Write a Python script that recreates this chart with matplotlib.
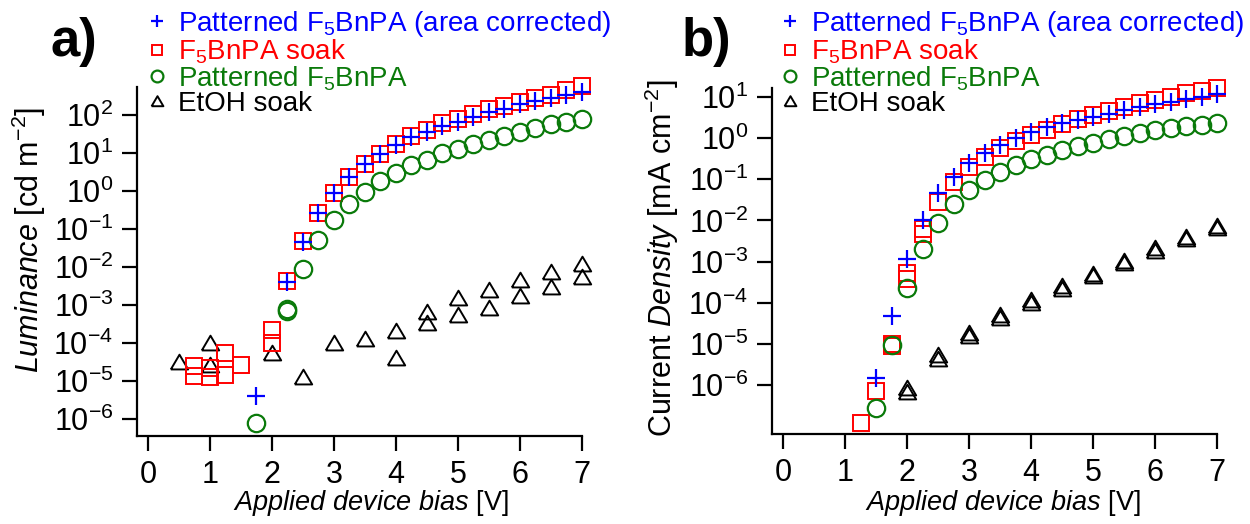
import numpy as np
import matplotlib
matplotlib.use('Agg')
import matplotlib.pyplot as plt
from matplotlib.ticker import FixedLocator, NullLocator, LogFormatterMathtext

plt.rcParams['font.family'] = ['Liberation Sans', 'DejaVu Sans']
plt.rcParams['mathtext.fontset'] = 'custom'
plt.rcParams['mathtext.rm'] = 'Liberation Sans'
plt.rcParams['mathtext.it'] = 'Liberation Sans:italic'
plt.rcParams['mathtext.bf'] = 'Liberation Sans:bold'
plt.rcParams['axes.unicode_minus'] = False

# ---------------- data (log10 of values) ----------------
# Panel a) Luminance [cd m^-2]
lum_corr_V = [1.75, 2.25, 2.5, 2.75, 3.0, 3.25, 3.5, 3.75, 4.0, 4.25, 4.5, 4.75,
              5.0, 5.25, 5.5, 5.75, 6.0, 6.25, 6.5, 6.75, 7.0]
lum_corr_log = [-5.39, -2.39, -1.33, -0.59, -0.04, 0.38, 0.71, 0.97, 1.22, 1.43, 1.56, 1.70,
                1.82, 1.95, 2.08, 2.17, 2.28, 2.36, 2.44, 2.53, 2.61]

lum_soak_V = [0.75, 0.75, 1.0, 1.0, 1.25, 1.25, 1.5, 2.0, 2.0, 2.25, 2.5, 2.75, 3.0, 3.25,
              3.5, 3.75, 4.0, 4.25, 4.5, 4.75, 5.0, 5.25, 5.5, 5.75, 6.0, 6.25, 6.5, 6.75, 7.0]
lum_soak_log = [-4.61, -4.86, -4.67, -4.89, -4.27, -4.84, -4.58, -3.66, -4.01, -2.37, -1.31,
                -0.59, -0.04, 0.38, 0.71, 0.97, 1.24, 1.46, 1.62, 1.78, 1.91, 2.04, 2.16, 2.24,
                2.35, 2.44, 2.53, 2.66, 2.76]

lum_pat_V = [1.75, 2.25, 2.25, 2.5, 2.75, 3.0, 3.25, 3.5, 3.75, 4.0, 4.25, 4.5, 4.75, 5.0,
             5.25, 5.5, 5.75, 6.0, 6.25, 6.5, 6.75, 7.0]
lum_pat_log = [-6.10, -3.11, -3.15, -2.06, -1.29, -0.76, -0.34, -0.02, 0.26, 0.47, 0.68, 0.83,
               0.99, 1.10, 1.24, 1.34, 1.46, 1.56, 1.65, 1.76, 1.82, 1.89]

lum_etoh_V = [0.5, 1.0, 1.0, 2.0, 2.5, 3.0, 3.5, 4.0, 4.0, 4.5, 4.5, 5.0, 5.0, 5.5, 5.5,
              6.0, 6.0, 6.5, 6.5, 7.0, 7.0]
lum_etoh_log = [-4.49, -4.01, -4.58, -4.26, -4.89, -4.01, -3.89, -3.68, -4.39, -3.18, -3.47,
                -2.81, -3.26, -2.61, -3.09, -2.34, -2.76, -2.14, -2.52, -1.92, -2.27]

# Panel b) Current density [mA cm^-2]
j_corr_V = [1.5, 1.75, 2.0, 2.25, 2.5, 2.75, 3.0, 3.25, 3.5, 3.75, 4.0, 4.25, 4.5, 4.75,
            5.0, 5.25, 5.5, 5.75, 6.0, 6.25, 6.5, 6.75, 7.0]
j_corr_log = [-5.82, -4.32, -2.93, -1.99, -1.34, -0.94, -0.61, -0.35, -0.17, 0.01, 0.16, 0.26,
              0.36, 0.44, 0.52, 0.60, 0.68, 0.76, 0.82, 0.89, 0.95, 1.01, 1.07]

j_soak_V = [1.25, 1.5, 1.75, 1.75, 2.0, 2.0, 2.25, 2.25, 2.5, 2.75, 3.0, 3.25, 3.5, 3.75,
            4.0, 4.25, 4.5, 4.75, 5.0, 5.25, 5.5, 5.75, 6.0, 6.25, 6.5, 6.75, 7.0]
j_soak_log = [-6.92, -6.14, -5.00, -5.06, -3.27, -3.42, -2.20, -2.32, -1.54, -1.06, -0.71,
              -0.45, -0.25, -0.06, 0.08, 0.21, 0.34, 0.46, 0.56, 0.66, 0.76, 0.85, 0.93, 1.01,
              1.09, 1.15, 1.22]

j_pat_V = [1.5, 1.75, 2.0, 2.25, 2.5, 2.75, 3.0, 3.25, 3.5, 3.75, 4.0, 4.25, 4.5, 4.75,
           5.0, 5.25, 5.5, 5.75, 6.0, 6.25, 6.5, 6.75, 7.0]
j_pat_log = [-6.55, -5.03, -3.64, -2.69, -2.05, -1.60, -1.26, -1.02, -0.82, -0.65, -0.51, -0.41,
             -0.29, -0.19, -0.11, -0.03, 0.05, 0.12, 0.19, 0.25, 0.29, 0.33, 0.36]

j_etoh_V = [2.0, 2.5, 3.0, 3.5, 4.0, 4.5, 5.0, 5.5, 6.0, 6.5, 7.0,
            2.0, 2.5, 3.0, 3.5, 4.0, 4.5, 5.0, 5.5, 6.0, 6.5, 7.0]
j_etoh_log = [-6.08, -5.27, -4.73, -4.30, -3.93, -3.59, -3.29, -2.98, -2.68, -2.40, -2.14,
              -6.17, -5.36, -4.82, -4.38, -4.01, -3.66, -3.36, -3.04, -2.74, -2.46, -2.19]

x_ticks = [0, 1, 2, 3, 4, 5, 6, 7]
lum_yticks_exp = [-6, -5, -4, -3, -2, -1, 0, 1, 2]
j_yticks_exp = [-6, -5, -4, -3, -2, -1, 0, 1]

labels = ['Patterned F$_5$BnPA (area corrected)', 'F$_5$BnPA soak',
          'Patterned F$_5$BnPA', 'EtOH soak']

# ---------------- styles ----------------
C_BLUE = '#0000ff'
C_RED = '#ff0000'
C_GREEN = '#0a7a0a'
C_BLACK = '#000000'
TRI = [(-1, -0.8), (1, -0.8), (0, 0.9), (-1, -0.8)]
MS = 12.5

W, H = 1250, 524
fig = plt.figure(figsize=(W / 100, H / 100), dpi=100)


def ax_at(x0, x1, ytop, ybot):
    return fig.add_axes([x0 / W, 1 - ybot / H, (x1 - x0) / W, (ybot - ytop) / H])


axL = ax_at(137, 582, 87, 436)
axR = ax_at(772, 1217, 88, 434)


def draw(ax, etoh, soak, pat, corr):
    h_e, = ax.plot(etoh[0], np.power(10.0, etoh[1]), ls='none', marker=TRI, ms=MS,
                   mfc='none', mec=C_BLACK, color=C_BLACK, mew=1.4, clip_on=False, zorder=3)
    h_s, = ax.plot(soak[0], np.power(10.0, soak[1]), ls='none', marker='s', ms=MS - 1,
                   mfc='none', mec=C_RED, color=C_RED, mew=1.4, clip_on=False, zorder=4)
    h_p, = ax.plot(pat[0], np.power(10.0, pat[1]), ls='none', marker='o', ms=MS,
                   mfc='none', mec=C_GREEN, color=C_GREEN, mew=1.6, clip_on=False, zorder=5)
    h_c, = ax.plot(corr[0], np.power(10.0, corr[1]), ls='none', marker='+', ms=MS + 1,
                   mec=C_BLUE, color=C_BLUE, mew=1.6, clip_on=False, zorder=6)
    return [h_c, h_s, h_p, h_e]


hL = draw(axL, (lum_etoh_V, lum_etoh_log), (lum_soak_V, lum_soak_log),
          (lum_pat_V, lum_pat_log), (lum_corr_V, lum_corr_log))
hR = draw(axR, (j_etoh_V, j_etoh_log), (j_soak_V, j_soak_log),
          (j_pat_V, j_pat_log), (j_corr_V, j_corr_log))


def style(ax, xlim, ylim, yexp):
    ax.set_yscale('log')
    ax.set_xlim(*xlim)
    ax.set_ylim(*ylim)
    ax.xaxis.set_major_locator(FixedLocator(x_ticks))
    ax.yaxis.set_major_locator(FixedLocator([10.0 ** k for k in yexp]))
    ax.yaxis.set_minor_locator(NullLocator())
    ax.xaxis.set_minor_locator(NullLocator())
    ax.yaxis.set_major_formatter(LogFormatterMathtext())
    for s in ['top', 'right']:
        ax.spines[s].set_visible(False)
    for s in ['left', 'bottom']:
        ax.spines[s].set_linewidth(1.6)
    ax.tick_params(axis='both', direction='out', length=11, width=1.6, labelsize=22, pad=6)
    ax.set_facecolor('none')


style(axL, (-0.177, 7.0), (10 ** -6.45, 10 ** 2.74), lum_yticks_exp)
style(axR, (-0.182, 7.0), (10 ** -7.19, 10 ** 1.22), j_yticks_exp)

for ax, handles, lx in [(axL, hL, 146), (axR, hR, 779)]:
    ax.legend(handles, labels, loc='upper left', bbox_to_anchor=(lx / W, 1 - 9 / H),
              bbox_transform=fig.transFigure, frameon=False, fontsize=20,
              labelcolor='linecolor', markerscale=0.68, handlelength=0.8,
              handletextpad=0.35, labelspacing=-0.06, borderpad=0, borderaxespad=0)

fig.text(74 / W, 1 - 42 / H, 'a)', fontsize=38, fontweight='bold', ha='center', va='center')
fig.text(706 / W, 1 - 42 / H, 'b)', fontsize=38, fontweight='bold', ha='center', va='center')

fig.text(29 / W, 1 - 240 / H, r'$\mathit{Luminance}$ [cd m$^{-2}$]', rotation=90,
         fontsize=22, ha='center', va='center')
fig.text(662 / W, 1 - 258 / H, r'Current $\mathit{Density}$ [mA cm$^{-2}$]', rotation=90,
         fontsize=22, ha='center', va='center')
fig.text(371 / W, 1 - 503 / H, r'$\mathit{Applied\ device\ bias}$ [V]',
         fontsize=19.5, ha='center', va='center')
fig.text(1003 / W, 1 - 503 / H, r'$\mathit{Applied\ device\ bias}$ [V]',
         fontsize=19.5, ha='center', va='center')

fig.savefig('out.png', dpi=100)
